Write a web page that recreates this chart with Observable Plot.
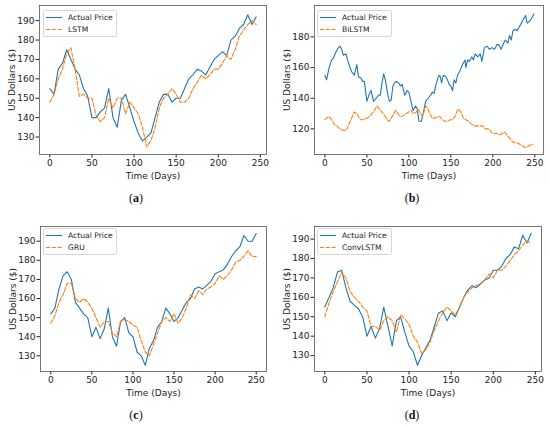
<!DOCTYPE html>
<html><head><meta charset="utf-8">
<script src="https://cdn.jsdelivr.net/npm/d3@7"></script>
<script src="https://cdn.jsdelivr.net/npm/@observablehq/plot@0.6"></script>
<style>
body{margin:0;background:#fff;}
#root{position:relative;width:550px;height:426px;font-family:"DejaVu Sans",sans-serif;overflow:hidden;}
.panel{position:absolute;}
.cap{position:absolute;font-family:"Liberation Serif",serif;font-size:12px;transform:translate(-50%,-50%);color:#111;}
</style>
</head><body>
<div id="root"></div>
<script>
// ---- data ----
const days5 = [0,5,10,15,20,25,30,35,40,45,50,55,60,65,70,75,80,85,90,95,100,105,110,115,120,125,130,135,140,145,150,155,160,165,170,175,180,185,190,195,200,205,210,215,220,225,230,235,240,245];
const actualA = [155,152,165,168,175,170,165,162,155,151,140,140,143,145,155,140,135,149,152,145,138,132,128,130,132,140,148,152,152,148,150,150,155,160,162,165,164,162,166,170,172,174,172,180,182,186,188,193,188,192];
const lstmA = [148,152,160,165,173,176,165,151,152,150,150,141,138,140,150,145,150,150,142,148,145,142,135,125,128,135,145,150,152,155,152,148,148,150,155,158,162,160,162,165,165,168,172,170,175,182,185,188,190,188];

const daysB = [0,2,5,8,10,13,16,18,20,22,25,27,30,32,34,35,38,40,43,45,47,50,53,55,58,61,64,66,68,70,72,75,77,79,81,83,85,88,90,92,95,98,100,103,105,108,110,112,115,117,120,123,126,128,130,132,135,137,139,141,144,146,148,150,152,154,156,158,161,164,167,168,170,172,175,177,179,182,185,187,190,193,196,199,202,205,207,210,213,215,218,220,222,224,227,229,231,234,237,239,241,243,245,247,249];
const actualB = [155,152,160,165,166,170,173,174,172,168,169,165,160,157,156,155,162,154,153,151,151,138,143,145,138,140,142,142,150,156,152,142,138,139,148,150,151,150,148,149,142,145,144,137,132,135,133,125,125,130,138,140,142,144,143,148,154,155,150,155,154,152,149,148,145,152,150,155,158,162,165,160,165,164,167,165,169,167,169,164,173,174,172,173,172,175,175,172,176,178,176,181,178,184,185,184,186,189,192,194,189,190,191,193,195];
const daysBp = [0,2,5,8,11,14,18,22,25,28,31,35,38,41,43,46,50,53,56,59,62,65,68,71,74,77,80,83,85,88,91,94,97,100,103,106,109,111,114,116,118,120,122,125,128,131,134,137,140,143,146,149,152,155,157,159,162,165,168,171,175,178,181,185,188,191,195,198,201,205,208,211,214,217,220,223,226,229,232,235,238,240,243,246,248];
const bilstmB = [126,127,128,126,123,122,120,119,119,122,126,131,130,127,126,126,127,128,130,132,135,133,131,129,126,125,128,131,132,129,128,129,130,131,132,130,131,133,130,128,131,135,134,130,127,127,128,128,126,125,125,126,126,128,131,133,131,127,126,125,123,122,122,122,122,120,120,118,117,117,116,117,118,116,114,112,111,111,110,109,108,108,109,110,110];

const daysC = [0,5,10,15,20,25,30,35,40,45,50,55,60,65,70,75,80,85,90,95,100,105,110,115,120,125,130,135,140,145,150,155,160,165,170,175,180,185,190,195,200,205,210,215,220,225,230,235,240,245,250];
const actualC = [152,155,165,172,174,170,158,155,152,150,140,145,139,144,155,140,135,148,150,142,140,132,130,125,134,138,145,148,155,152,148,150,154,158,160,165,166,165,167,169,173,174,175,178,182,185,187,193,190,190,194];
const gruC = [147,151,158,162,168,168,160,158,160,158,155,150,145,148,148,142,140,148,149,148,146,145,138,132,130,136,142,148,150,148,152,147,150,155,162,160,164,162,165,166,168,172,170,172,175,179,180,182,185,182,182];

const actualD = [155,160,165,173,174,165,158,156,154,150,140,145,139,144,155,145,135,148,150,142,135,132,125,130,134,138,145,152,153,148,152,150,155,160,164,166,165,167,169,170,174,174,176,180,182,186,185,192,188,193];
const convD = [150,157,163,168,173,170,163,160,158,155,153,145,145,143,148,150,148,142,151,149,146,140,137,131,133,137,143,148,152,155,153,151,155,160,163,165,166,167,169,172,170,174,174,176,179,182,184,187,189,188];

const xTicks = [0,50,100,150,200,250];
const yTicks10 = [130,140,150,160,170,180,190];
const yTicks20 = [120,140,160,180];
const modelNames = ["LSTM","BiLSTM","GRU","ConvLSTM"];
const captions = ["(a)","(b)","(c)","(d)"];

// ---- layout ----
const BLUE = "#1f77b4", ORANGE = "#ff7f0e";
const panels = [
  {left:0,top:0,h:213,ml:39,mr:9,mt:5,mb:59,xd:[-12.25,257.25],yd:[121,197.8],yt:yTicks10,
   act:{x:days5,y:actualA},pred:{x:days5,y:lstmA},leg:[43,10,73,26],cap:[136,198]},
  {left:275,top:0,h:213,ml:39,mr:7,mt:5,mb:59,xd:[-12.4,260.4],yd:[103.3,200.5],yt:yTicks20,
   act:{x:daysB,y:actualB},pred:{x:daysBp,y:bilstmB},leg:[317,10,74,26],cap:[412,198]},
  {left:0,top:213,h:213,ml:40,mr:9,mt:13,mb:55,xd:[-12.5,262.5],yd:[121.8,197.7],yt:yTicks10,
   act:{x:daysC,y:actualC},pred:{x:daysC,y:gruC},leg:[43,228,73,26],cap:[136,415]},
  {left:275,top:213,h:213,ml:39,mr:9,mt:13,mb:55,xd:[-12.25,257.25],yd:[121.8,196.5],yt:yTicks10,
   act:{x:days5,y:actualD},pred:{x:days5,y:convD},leg:[317,228,74,26],cap:[412,415]}
];

const root = document.getElementById("root");
panels.forEach((p,i) => {
  const actRows = p.act.x.map((d,j)=>({d, v:p.act.y[j]}));
  const predRows = p.pred.x.map((d,j)=>({d, v:p.pred.y[j]}));
  const chart = Plot.plot({
    width:275, height:p.h,
    marginLeft:p.ml, marginRight:p.mr, marginTop:p.mt, marginBottom:p.mb,
    style:{fontFamily:"DejaVu Sans", fontSize:"9px", color:"#222", background:"transparent"},
    x:{domain:p.xd},
    y:{domain:p.yd},
    marks:[
      Plot.axisX({ticks:xTicks, tickSize:3.5, tickPadding:1.5, label:"Time (Days)", labelAnchor:"center", labelArrow:"none", labelOffset:24, fontSize:9}),
      Plot.axisY({ticks:p.yt, tickSize:3.5, tickPadding:1.5, label:"US Dollars ($)", labelAnchor:"center", labelArrow:"none", labelOffset:31, fontSize:9}),
      Plot.line(actRows,{x:"d",y:"v",stroke:BLUE,strokeWidth:1.1}),
      Plot.line(predRows,{x:"d",y:"v",stroke:ORANGE,strokeWidth:1.1,strokeDasharray:"4,1.8"}),
      Plot.frame({stroke:"#555",strokeWidth:0.8})
    ]
  });
  chart.classList.add("panel");
  chart.style.left = p.left+"px";
  chart.style.top = p.top+"px";
  root.appendChild(chart);

  // legend
  const [lx,ly,lw,lh] = p.leg;
  const svg = d3.select(root).append("svg").attr("class","panel")
    .style("left",lx+"px").style("top",ly+"px").attr("width",lw+1).attr("height",lh+1);
  svg.append("rect").attr("x",0.5).attr("y",0.5).attr("width",lw).attr("height",lh).attr("rx",2)
    .attr("fill","white").attr("fill-opacity",0.85).attr("stroke","#ccc").attr("stroke-width",0.8);
  const entries = [["Actual Price",BLUE,null],[modelNames[i],ORANGE,"4,1.8"]];
  entries.forEach(([t,c,da],k)=>{
    const yy = 7.5 + k*12;
    svg.append("line").attr("x1",3).attr("x2",19).attr("y1",yy).attr("y2",yy)
      .attr("stroke",c).attr("stroke-width",1.1).attr("stroke-dasharray",da);
    svg.append("text").attr("x",25).attr("y",yy).attr("dy","0.35em")
      .attr("font-family","DejaVu Sans").attr("font-size",7.6).attr("fill","#222").text(t);
  });

  // caption
  const cap = document.createElement("div");
  cap.className = "cap";
  cap.style.left = p.cap[0]+"px"; cap.style.top = p.cap[1]+"px";
  const letter = captions[i].slice(1,2);
  cap.innerHTML = "(<b>"+letter+"</b>)";
  root.appendChild(cap);
});
</script>
</body></html>
